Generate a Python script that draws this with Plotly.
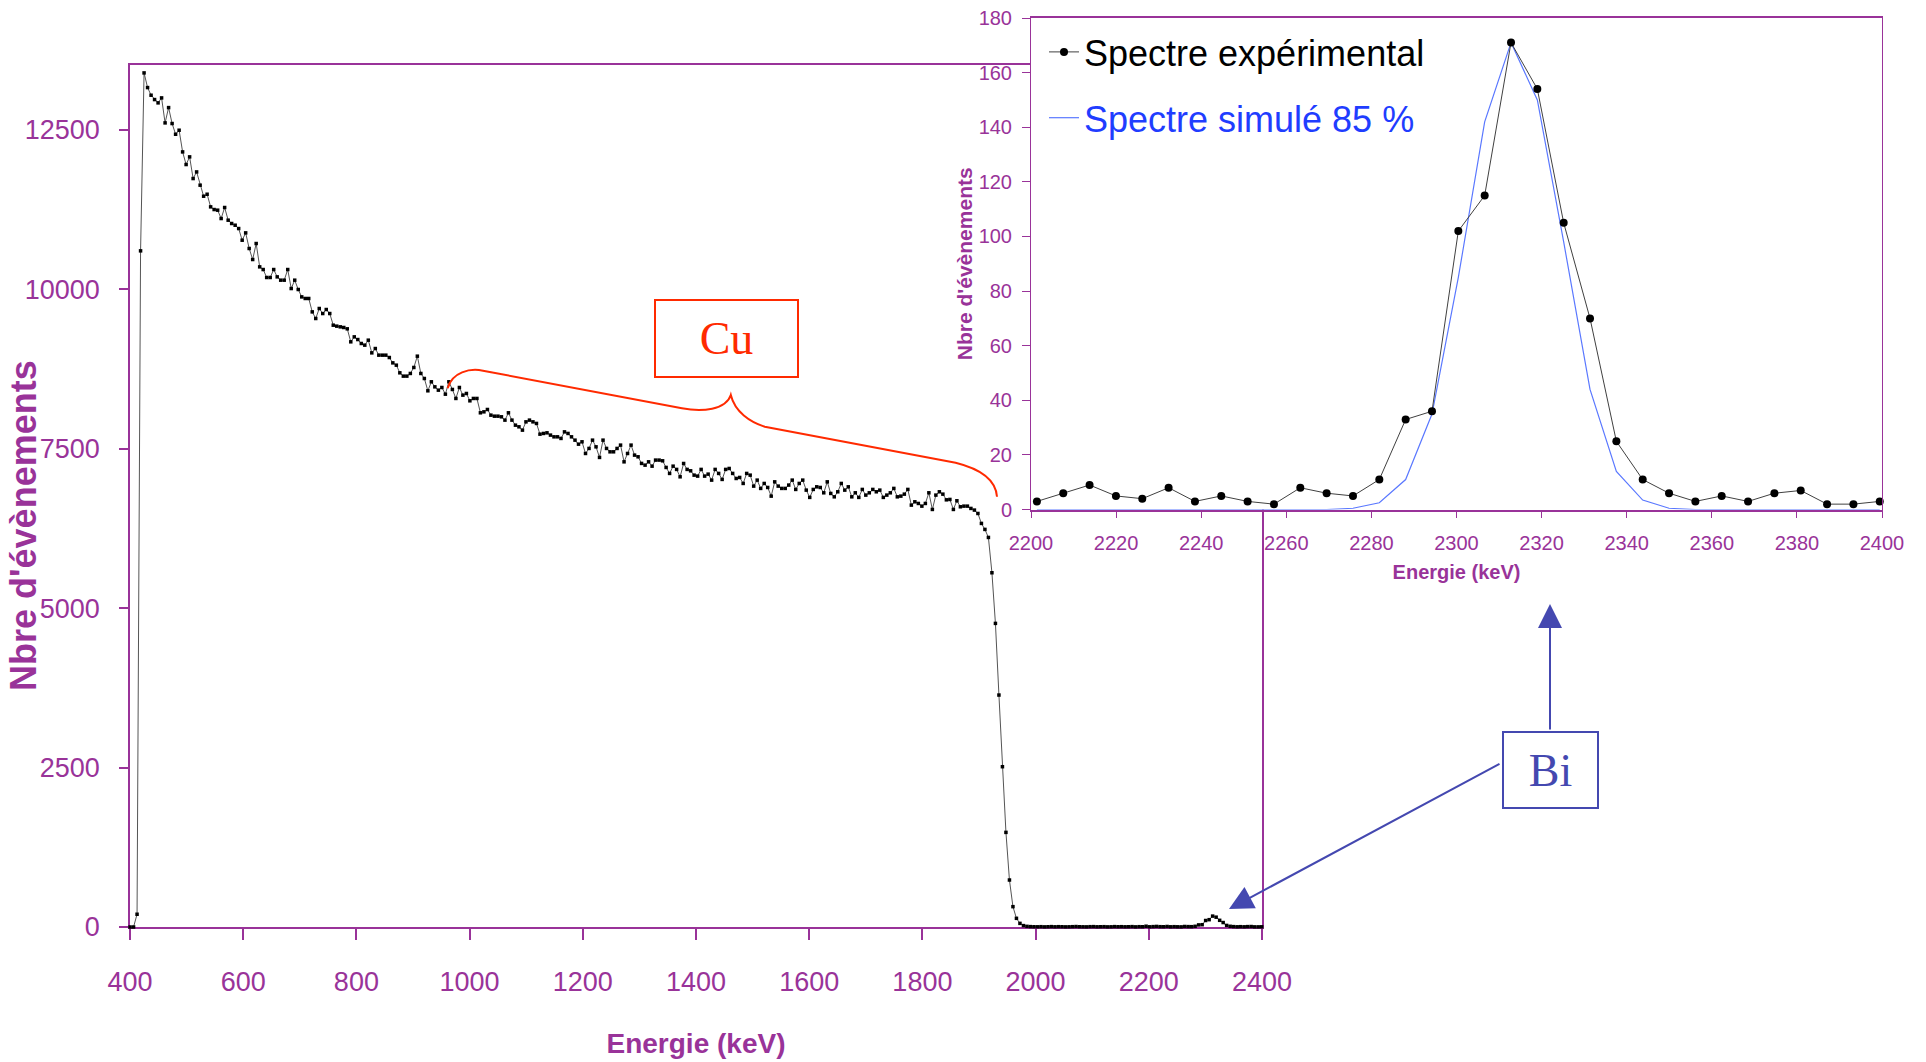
import plotly.graph_objects as go

W, H = 1926, 1062

# ---------------- data ----------------
# channel energy calibration (keV): E = E0 + dE * channel
E0 = 400.1
dE = 6.19

# experimental counts per channel (main spectrum, 400 -> 2400 keV)
counts = [
    0, 0, 200, 10605, 13396, 13166, 13046, 12978, 12926, 13004,
    12612, 12852, 12602, 12434, 12497, 12157, 11959, 12079, 11739, 11843,
    11635, 11462, 11493, 11295, 11253, 11243, 11112, 11285, 11086, 11034,
    11007, 10955, 10772, 10887, 10642, 10469, 10720, 10354, 10312, 10187,
    10187, 10312, 10197, 10145, 10145, 10312, 10014, 10145, 9999, 9883,
    9858, 9858, 9648, 9544, 9701, 9622, 9685, 9622, 9439, 9424,
    9413, 9403, 9382, 9178, 9256, 9214, 9152, 9126, 9204, 9005,
    9073, 8969, 8969, 8969, 8932, 8848, 8812, 8692, 8640, 8640,
    8682, 8776, 8953, 8682, 8603, 8410, 8551, 8472, 8420, 8462,
    8357, 8551, 8431, 8290, 8462, 8342, 8368, 8253, 8290, 8290,
    8065, 8080, 8117, 8028, 8012, 8012, 8002, 7950, 8065, 7950,
    7871, 7845, 7793, 7923, 7950, 7923, 7898, 7730, 7741, 7751,
    7715, 7688, 7688, 7663, 7766, 7741, 7688, 7636, 7573, 7610,
    7427, 7506, 7636, 7531, 7365, 7636, 7506, 7453, 7453, 7506,
    7558, 7296, 7427, 7558, 7401, 7375, 7271, 7244, 7296, 7228,
    7323, 7323, 7312, 7208, 7114, 7228, 7177, 7061, 7270, 7177,
    7155, 7087, 7072, 7177, 7072, 7103, 7009, 7177, 7114, 7020,
    7177, 7192, 7114, 7035, 7051, 6957, 7114, 7087, 6915, 7009,
    6879, 6957, 6894, 6758, 6982, 6915, 6879, 6879, 6931, 7009,
    6863, 6957, 7009, 6852, 6738, 6863, 6904, 6894, 6810, 6982,
    6800, 6747, 6826, 6957, 6852, 6904, 6747, 6810, 6738, 6863,
    6774, 6810, 6863, 6826, 6852, 6738, 6774, 6810, 6879, 6747,
    6758, 6789, 6863, 6617, 6669, 6643, 6601, 6643, 6810, 6549,
    6774, 6826, 6789, 6700, 6706, 6549, 6685, 6591, 6601, 6601,
    6565, 6539, 6486, 6330, 6236, 6110, 5556, 4762, 3638, 2514,
    1484, 737, 319, 136, 57, 22, 10, 6, 4, 3,
    5, 2, 4, 6, 3, 5, 4, 2, 3, 5,
    7, 4, 3, 2, 5, 6, 3, 4, 5, 2,
    3, 6, 4, 5, 3, 4, 6, 2, 5, 4,
    12, 3, 6, 9, 5, 4, 8, 3, 5, 3,
    2, 8, 6, 5, 11, 33, 36, 102, 115, 171,
    154, 105, 70, 25, 11, 6, 3, 5, 3, 6,
    7, 2, 2, 3,
]

# first channel shown in the inset (2200-2400 keV zoom)
INSET_START = 291

# simulated spectrum (85 %) for the inset channels
simulated = [
    0, 0, 0, 0, 0, 0, 0, 0, 0, 0,
    0, 0, 0.5, 2.5, 11, 35, 85, 142, 171, 150,
    98, 44, 14, 3.5, 0.5, 0, 0, 0, 0, 0,
    0, 0, 0,
]

main_xticks = [400, 600, 800, 1000, 1200, 1400, 1600, 1800, 2000, 2200, 2400]
main_yticks = [0, 2500, 5000, 7500, 10000, 12500]
inset_xticks = [2200, 2220, 2240, 2260, 2280, 2300, 2320, 2340, 2360, 2380, 2400]
inset_yticks = [0, 20, 40, 60, 80, 100, 120, 140, 160, 180]

energies = [round(E0 + dE * i, 2) for i in range(len(counts))]
inset_e = energies[INSET_START:]
inset_counts = counts[INSET_START:]

# ---------------- style ----------------
PURPLE = "#993399"
SANS = "Liberation Sans, Arial, sans-serif"
SERIF = "Liberation Serif, Times New Roman, serif"
RED = "#ff2a00"
BLUEV = "#4448b0"


def px(x):
    return x / W


def py(y):
    return 1 - y / H


fig = go.Figure()

fig.add_trace(go.Scatter(
    x=energies, y=counts, mode="lines+markers",
    line=dict(color="#555555", width=1),
    marker=dict(symbol="square", size=3.5, color="black"),
    showlegend=False, cliponaxis=False, xaxis="x", yaxis="y",
))

fig.add_trace(go.Scatter(
    x=inset_e, y=simulated, mode="lines",
    name='<span style="color:#1f3dff">Spectre simulé 85 %</span>',
    line=dict(color="#5a78ff", width=1.2),
    legendgroup="sim", legendrank=2, cliponaxis=False,
    xaxis="x2", yaxis="y2",
))

fig.add_trace(go.Scatter(
    x=inset_e, y=inset_counts, mode="lines+markers",
    name="Spectre expérimental",
    line=dict(color="#404040", width=1),
    marker=dict(symbol="circle", size=8, color="black"),
    legendgroup="exp", legendrank=1, cliponaxis=False,
    xaxis="x2", yaxis="y2",
))

fig.update_layout(
    width=W, height=H,
    margin=dict(l=0, r=0, t=0, b=0, autoexpand=False),
    paper_bgcolor="white", plot_bgcolor="white",
    font=dict(family=SANS, color=PURPLE),
    showlegend=True,
    legend=dict(
        x=px(1044), y=py(22), xanchor="left", yanchor="top",
        font=dict(family=SANS, size=36, color="black"),
        bgcolor="rgba(0,0,0,0)", traceorder="grouped", tracegroupgap=16,
        itemwidth=30,
    ),
    xaxis=dict(
        domain=[px(130), px(1262)], range=[400, 2400], automargin=False,
        tickvals=main_xticks, ticks="outside", ticklen=11, tickwidth=1.5,
        tickcolor=PURPLE, showline=True, linecolor=PURPLE, linewidth=1.5,
        mirror=True, showgrid=False, zeroline=False, layer="below traces",
        tickfont=dict(family=SANS, size=27, color=PURPLE),
        ticklabelstandoff=19,
        title=dict(text="<b>Energie (keV)</b>", standoff=37,
                   font=dict(family=SANS, size=28, color=PURPLE)),
    ),
    yaxis=dict(
        domain=[py(927), py(65)], range=[0, 13520], automargin=False,
        tickvals=main_yticks, tickformat="d", ticks="outside", ticklen=9,
        tickwidth=1.5, tickcolor=PURPLE, showline=True, linecolor=PURPLE,
        linewidth=1.5, mirror=True, showgrid=False, zeroline=False,
        layer="below traces",
        tickfont=dict(family=SANS, size=27, color=PURPLE),
        ticklabelstandoff=14,
    ),
    xaxis2=dict(
        anchor="y2", domain=[px(1031), px(1882)], range=[2200, 2400],
        automargin=False,
        tickvals=inset_xticks, ticks="outside", ticklen=7, tickwidth=1,
        tickcolor=PURPLE, showline=True, linecolor=PURPLE, linewidth=1.5,
        mirror=True, showgrid=False, zeroline=False, layer="below traces",
        tickfont=dict(family=SANS, size=20, color=PURPLE),
        ticklabelstandoff=8,
        title=dict(text="<b>Energie (keV)</b>", standoff=12,
                   font=dict(family=SANS, size=20, color=PURPLE)),
    ),
    yaxis2=dict(
        anchor="x2", domain=[py(509.6), py(18)], range=[0, 180],
        automargin=False,
        tickvals=inset_yticks, ticks="outside", ticklen=8, tickwidth=1,
        tickcolor=PURPLE, showline=True, linecolor=PURPLE, linewidth=1,
        mirror=True, showgrid=False, zeroline=False,
        tickfont=dict(family=SANS, size=20, color=PURPLE),
        ticklabelstandoff=6,
        title=dict(text="<b>Nbre d'évènements</b>", standoff=0,
                   font=dict(family=SANS, size=21, color=PURPLE)),
    ),
)

# main y-axis title (placed freely, as in the original)
fig.add_annotation(
    xref="paper", yref="paper", x=px(23), y=py(526),
    text="<b>Nbre d'évènements</b>", textangle=-90, showarrow=False,
    font=dict(family=SANS, size=36, color=PURPLE),
    xanchor="center", yanchor="middle",
)

# Cu label and brace
fig.add_annotation(
    xref="paper", yref="paper", x=px(726), y=py(338),
    text="Cu", showarrow=False,
    font=dict(family=SERIF, size=46, color=RED),
    bordercolor=RED, borderwidth=2, borderpad=0, bgcolor="white",
    width=141, height=75, xanchor="center", yanchor="middle",
)

brace_pts = [
    ("M", (447.7, 388.3)),
    ("C", (452, 372), (470, 368), (483, 370.7)),
    ("L", (681.9, 408.3)),
    ("C", (702, 412), (726, 410), (730.8, 395)),
    ("C", (735, 412), (750, 422), (764.8, 426.7)),
    ("L", (955.6, 462.7)),
    ("C", (985, 470), (996, 482), (997, 496.7)),
]
path = ""
for cmd, *pts in brace_pts:
    path += cmd + " " + " ".join(f"{px(a):.5f},{py(b):.5f}" for a, b in pts) + " "
fig.add_shape(type="path", xref="paper", yref="paper", path=path.strip(),
              line=dict(color=RED, width=2))

# Bi label and arrows
fig.add_annotation(
    xref="paper", yref="paper", x=px(1550), y=py(770),
    text="Bi", showarrow=False,
    font=dict(family=SERIF, size=46, color=BLUEV),
    bordercolor=BLUEV, borderwidth=2, borderpad=0, bgcolor="white",
    width=93, height=74, xanchor="center", yanchor="middle",
)
fig.add_annotation(
    xref="paper", yref="paper", x=px(1550), y=py(604), text="",
    showarrow=True, ax=0, ay=127, arrowhead=2, arrowsize=2.4,
    arrowwidth=2, arrowcolor=BLUEV, standoff=0,
)
fig.add_annotation(
    xref="paper", yref="paper", x=px(1229), y=py(909), text="",
    showarrow=True, ax=272, ay=-146, arrowhead=2, arrowsize=2.4,
    arrowwidth=2, arrowcolor=BLUEV, standoff=0,
)

fig.write_html("out.html")
